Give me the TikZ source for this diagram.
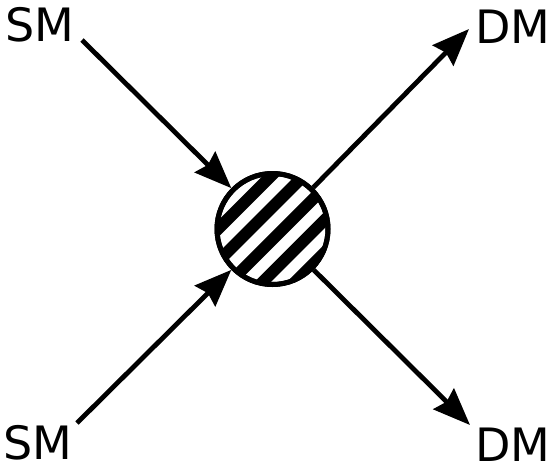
\documentclass[tikz,border=0pt]{standalone}
\usepackage{fontspec}
\setmainfont{DejaVu Sans}
\usetikzlibrary{arrows.meta,calc}
\begin{document}
\begin{tikzpicture}[x=1pt,y=-1pt,
  lbl/.style={inner sep=0pt, font=\fontsize{46}{55}\selectfont},
  conn/.style={line width=4.8pt, -{Stealth[length=37pt,width=29pt,inset=4pt]}},
  blob/.style={circle, draw, line width=5pt, fill=white, minimum size=111pt, inner sep=0pt}]
\useasboundingbox (0,0) rectangle (553,472);
\node[blob] (c) at (272.5,229) {};
\begin{scope}
  \clip (c.center) circle[radius=55.5];
  \foreach \u in {-61.5,-38.5,-15.5,7.5,30.5,53.5} {
    \fill ($(c.center)+({(\u-5.9+80)*0.7071},{(\u-5.9-80)*0.7071})$)
       -- ($(c.center)+({(\u+5.9+80)*0.7071},{(\u+5.9-80)*0.7071})$)
       -- ($(c.center)+({(\u+5.9-80)*0.7071},{(\u+5.9+80)*0.7071})$)
       -- ($(c.center)+({(\u-5.9-80)*0.7071},{(\u-5.9+80)*0.7071})$) -- cycle;
  }
\end{scope}
\draw[line width=5pt] (c.center) circle[radius=55.5];
\node[lbl] (sm1) at (40,25) {SM};
\node[lbl] (sm2) at (38,443) {SM};
\node[lbl] (dm1) at (513,27) {DM};
\node[lbl] (dm2) at (513,445) {DM};
\coordinate (s1) at (82,40);
\coordinate (s2) at (77,423);
\coordinate (d1) at (469,29);
\coordinate (d2) at (470,425);
\draw[conn] (s1) -- (c);
\draw[conn] (s2) -- (c);
\draw[conn] (c) -- (d1);
\draw[conn] (c) -- (d2);
\end{tikzpicture}
\end{document}
